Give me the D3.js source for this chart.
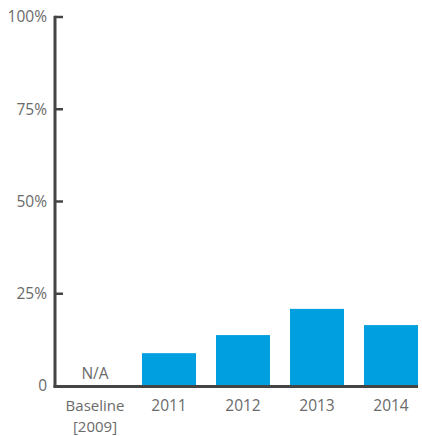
<!DOCTYPE html>
<html><head><meta charset="utf-8">
<script src="https://cdn.jsdelivr.net/npm/d3@7"></script>
<style>body{margin:0;background:#fff}text{font-family:"Open Sans",Lato,sans-serif;font-weight:400;fill:#6a6a6a;font-size:15.5px}</style>
</head><body><svg id="c" width="422" height="436"></svg>
<script>
const categories = ["Baseline\n[2009]", "2011", "2012", "2013", "2014"];
const values = [null, 8.9, 13.8, 20.9, 16.5];
const yTicks = [0, 25, 50, 75, 100];
const yTickLabels = ["0", "25%", "50%", "75%", "100%"];

const svg = d3.select("#c");
const x = d3.scaleBand().domain(categories).range([68, 418]).paddingInner(20/74).paddingOuter(0);
const y = d3.scaleLinear().domain([0, 100]).range([386, 17]);

svg.selectAll("rect.bar").data(categories.map((c,i)=>({c, v: values[i]})).filter(d=>d.v!=null))
  .enter().append("rect").attr("class","bar")
  .attr("x", d=>x(d.c)).attr("width", x.bandwidth())
  .attr("y", d=>y(d.v)).attr("height", d=>y(0)-y(d.v))
  .attr("fill", "#009FE0");

// N/A label
categories.forEach((c,i)=>{ if(values[i]==null){
  svg.append("text").attr("x", x(c)+x.bandwidth()/2).attr("y", y(0)-7).attr("text-anchor","middle").text("N/A");
}});

// y axis
const yAxis = d3.axisLeft(y).tickValues(yTicks).tickFormat((d,i)=>yTickLabels[i]).tickSize(0).tickPadding(8);
const gy = svg.append("g").attr("transform","translate(55,0)").call(yAxis);
gy.select(".domain").remove();
svg.selectAll("line.ytick").data(yTicks.filter(d=>d>0)).enter().append("line")
  .attr("x1",55).attr("x2",63).attr("y1",d=>y(d)).attr("y2",d=>y(d))
  .attr("stroke","#444").attr("stroke-width",2.5);
svg.append("line").attr("x1",55).attr("x2",55).attr("y1",y(100)-1.25).attr("y2",y(0)+1.5).attr("stroke","#444").attr("stroke-width",3);

// x axis
const xAxis = d3.axisBottom(x).tickSize(0).tickFormat("");
const gx = svg.append("g").attr("transform",`translate(0,${y(0)})`).call(xAxis);
gx.select(".domain").remove();
svg.append("line").attr("x1",53.5).attr("x2",418).attr("y1",y(0)+0.5).attr("y2",y(0)+0.5).attr("stroke","#444").attr("stroke-width",3);
gx.selectAll(".tick").each(function(d){
  const lines = d.split("\n");
  lines.forEach((line,j)=>d3.select(this).append("text").attr("text-anchor","middle")
    .style("font-size", lines.length > 1 ? "15px" : null)
    .attr("x",0).attr("y", 24.5 + 21*j).text(line));
});
</script></body></html>
